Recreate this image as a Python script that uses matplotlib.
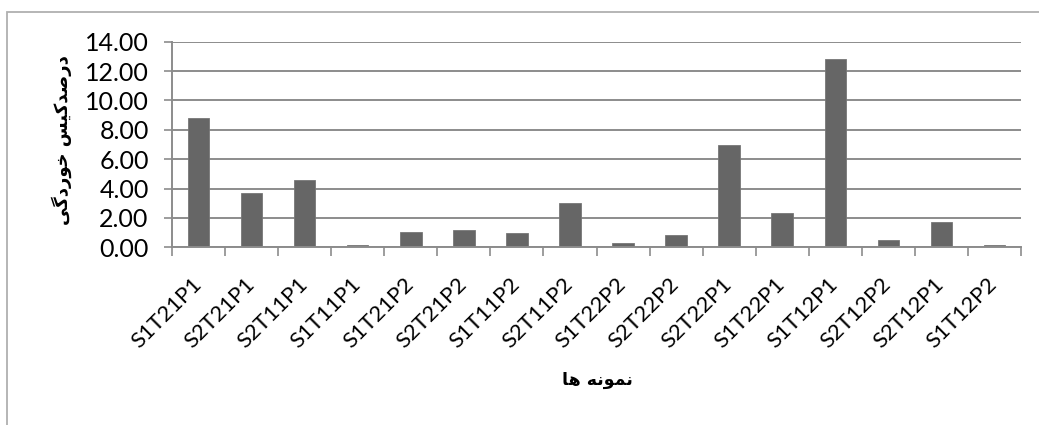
import matplotlib
matplotlib.use("Agg")
import matplotlib.pyplot as plt
from matplotlib.patches import Rectangle
import numpy as np

# sample codes and corrosion percentages
samples = ["S1T21P1", "S2T21P1", "S2T11P1", "S1T11P1", "S1T21P2", "S2T21P2",
           "S1T11P2", "S2T11P2", "S1T22P2", "S2T22P2", "S2T22P1", "S1T22P1",
           "S1T12P1", "S2T12P2", "S2T12P1", "S1T12P2"]
corrosion = [8.80, 3.72, 4.60, 0.16, 1.07, 1.15, 1.00, 3.01, 0.30, 0.82,
             6.96, 2.31, 12.83, 0.48, 1.70, 0.17]
yticks = [0, 2, 4, 6, 8, 10, 12, 14]

# Persian titles as shaped presentation forms (logical order), reversed for display
ylabel_forms = [0xFEA9, 0xFEAD, 0xFEBB, 0xFEAA, 0xFB90, 0xFBFF, 0xFEB2, 0x20,
                0xFEA7, 0xFEEE, 0xFEAD, 0xFEA9, 0xFB94, 0xFBFD]
xlabel_forms = [0xFEE7, 0xFEE4, 0xFEEE, 0xFEE7, 0xFEEA, 0x20, 0xFEEB, 0xFE8E]


def visual(forms):
    return "".join(chr(c) for c in reversed(forms))


W, H = 1039, 425
fig = plt.figure(figsize=(W / 100, H / 100), dpi=100)
ax = fig.add_axes([172.3 / W, 1 - 247.3 / H, 848.4 / W, 205.6 / H])

x = np.arange(len(samples))
ax.bar(x, corrosion, width=0.4, color="#666666", edgecolor="#777777",
       linewidth=0.6, zorder=3)

ax.set_xlim(-0.5, len(samples) - 0.5)
ax.set_ylim(0, 14)
ax.set_yticks(yticks)
ax.set_yticklabels([f"{v:.2f}" for v in yticks], fontsize=18, family="Lato")
ax.yaxis.grid(True, color="#8c8c8c", linewidth=1.4, zorder=0)
ax.tick_params(axis="y", length=6, width=1.2, color="#8c8c8c", pad=11)

ax.set_xticks(x)
ax.set_xticklabels(samples, rotation=45, ha="right", va="center",
                   rotation_mode="anchor", fontsize=16, family="Lato")
ax.set_xticks(np.arange(len(samples) + 1) - 0.5, minor=True)
ax.tick_params(axis="x", which="major", length=0, pad=24)
ax.tick_params(axis="x", which="minor", length=6.5, width=1.2, color="#8c8c8c")

for side in ("top", "right"):
    ax.spines[side].set_visible(False)
for side in ("left", "bottom"):
    ax.spines[side].set_color("#8c8c8c")
    ax.spines[side].set_linewidth(1.4)
ax.spines["bottom"].set_zorder(4)

fig.text(62 / W, 1 - 140 / H, visual(ylabel_forms), rotation=90,
         ha="center", va="center", fontsize=13, fontweight="bold",
         family="DejaVu Sans")
fig.text(597 / W, 1 - 380 / H, visual(xlabel_forms), ha="center",
         va="center", fontsize=12.5, fontweight="bold", family="DejaVu Sans")

# chart area frame
fig.add_artist(Rectangle((7 / W, -0.1), 1.2, 1 - 12 / H + 0.1,
                         transform=fig.transFigure, fill=False,
                         edgecolor="#b0b0b0", linewidth=1.3))

fig.savefig("out.png", dpi=100)
